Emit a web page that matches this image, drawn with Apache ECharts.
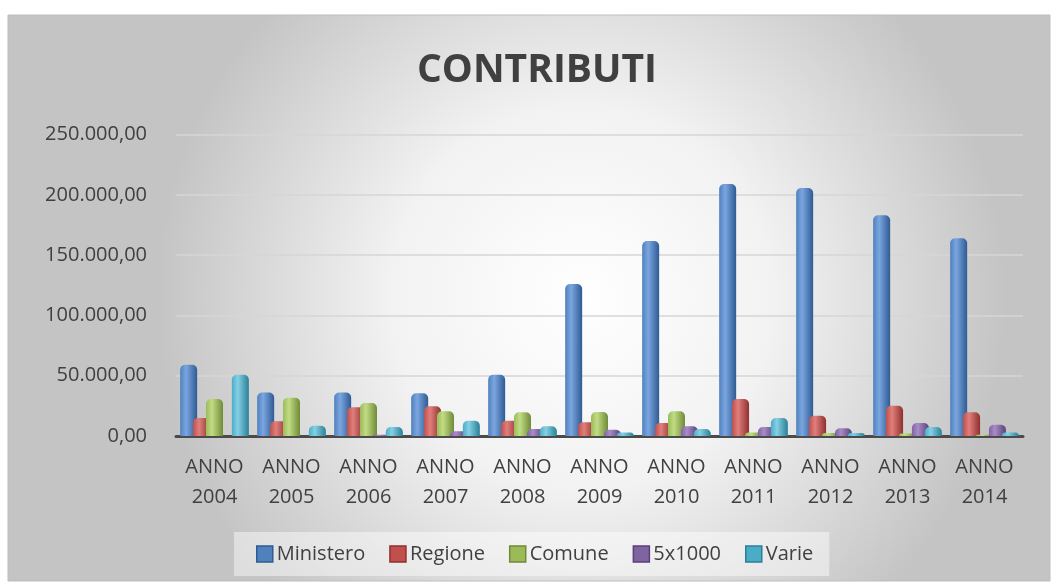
<!DOCTYPE html>
<html>
<head>
<meta charset="utf-8">
<script src="https://cdn.jsdelivr.net/npm/echarts@6/dist/echarts.min.js"></script>
<style>
  html, body { margin: 0; padding: 0; background: #fff; }
  #chart { width: 1055px; height: 585px; }
</style>
</head>
<body>
<div id="chart"></div>
<script>
const anni = ['ANNO\n2004', 'ANNO\n2005', 'ANNO\n2006', 'ANNO\n2007', 'ANNO\n2008', 'ANNO\n2009',
  'ANNO\n2010', 'ANNO\n2011', 'ANNO\n2012', 'ANNO\n2013', 'ANNO\n2014'];

const ministero = [59000, 36000, 36000, 35500, 50800, 126000, 161700, 209000, 205600, 183000, 164000];
const regione   = [14900, 12200, 23800, 24600, 12700, 11300, 10800, 30700, 16800, 25100, 19600];
const comune    = [30700, 31800, 27400, 20500, 19600, 19900, 20500, 3000, 2500, 2000, 1000];
const cinquePerMille = [0, 0, 1000, 4000, 5800, 5200, 8000, 7500, 6500, 10800, 9400];
const varie     = [50800, 8500, 7500, 12700, 8000, 3000, 5800, 14900, 2500, 7500, 3000];

const nomi = ['Ministero', 'Regione', 'Comune', '5x1000', 'Varie'];
const valori = [ministero, regione, comune, cinquePerMille, varie];
// base, chiaro, scuro
const colori = [
  ['#4F81BD', '#7ba6e0', '#2f5b94'],
  ['#C0504D', '#e07f7c', '#8f302e'],
  ['#9BBB59', '#c2dc85', '#6f8b35'],
  ['#8064A2', '#a78cc7', '#5a4078'],
  ['#4BACC6', '#85d0e4', '#2a7f97']
];

const formatta = v => {
  const intero = Math.round(v).toString().replace(/\B(?=(\d{3})+(?!\d))/g, '.');
  return intero + ',00';
};

const chart = echarts.init(document.getElementById('chart'));

const serie = nomi.map((nome, i) => ({
  name: nome,
  type: 'bar',
  data: valori[i],
  barWidth: 17,
  barGap: '-24%',
  itemStyle: {
    color: new echarts.graphic.LinearGradient(0, 0, 1, 0, [
      { offset: 0, color: colori[i][0] },
      { offset: 0.35, color: colori[i][1] },
      { offset: 1, color: colori[i][2] }
    ]),
    borderRadius: [5, 5, 0, 0]
  }
}));

chart.setOption({
  animation: false,
  graphic: [{
    type: 'rect',
    z: -10,
    shape: { x: 8, y: 15, width: 1042, height: 566 },
    style: {
      fill: new echarts.graphic.RadialGradient(0.55, 0.5, 0.75, [
        { offset: 0, color: '#ffffff' },
        { offset: 0.45, color: '#f2f2f2' },
        { offset: 1, color: '#c4c4c4' }
      ]),
      stroke: '#bdbdbd',
      lineWidth: 1
    }
  }],
  title: {
    text: 'CONTRIBUTI',
    left: 412,
    top: 46,
    textStyle: { fontFamily: 'Open Sans', fontWeight: 'bold', fontSize: 39, color: '#404040' }
  },
  legend: {
    left: 234,
    top: 532,
    padding: [12, 16, 12, 22],
    backgroundColor: 'rgba(255,255,255,0.45)',
    itemWidth: 16,
    itemHeight: 16,
    itemGap: 24,
    icon: 'rect',
    data: nomi.map((n, i) => ({
      name: n,
      itemStyle: { color: colori[i][0], borderColor: colori[i][2], borderWidth: 1.5 }
    })),
    textStyle: { fontFamily: 'Open Sans', fontSize: 20, color: '#404040', padding: [0, 0, 0, -1] }
  },
  grid: { left: 176, right: 32, top: 134.5, bottom: 149 },
  xAxis: {
    type: 'category',
    data: anni,
    axisTick: { show: false },
    axisLine: { lineStyle: { color: '#4a4a4a', width: 3 } },
    axisLabel: {
      fontFamily: 'Open Sans', fontSize: 20, color: '#404040',
      lineHeight: 30, margin: 16, interval: 0
    }
  },
  yAxis: {
    type: 'value',
    min: 0,
    max: 250000,
    interval: 50000,
    axisLine: { show: false },
    axisTick: { show: false },
    splitLine: { lineStyle: { color: '#d6d6d6', width: 1.5 } },
    axisLabel: {
      fontFamily: 'Open Sans', fontSize: 20, color: '#404040', margin: 29,
      formatter: formatta
    }
  },
  series: serie
});
</script>
</body>
</html>
